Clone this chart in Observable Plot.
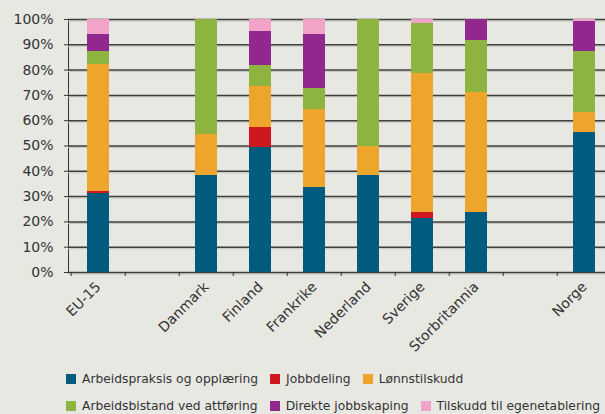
<!DOCTYPE html>
<html>
<head>
<meta charset="utf-8">
<script src="https://cdn.jsdelivr.net/npm/d3@7"></script>
<script src="https://cdn.jsdelivr.net/npm/@observablehq/plot@0.6"></script>
<style>
  html, body { margin: 0; padding: 0; background: #e8e8e3; overflow: hidden; }
  #chart { width: 605px; height: 414px; position: relative; }
  .legend { position: absolute; left: 66px; font-family: "DejaVu Sans", sans-serif; font-size: 12.3px; color: #333; }
  .row { display: flex; align-items: center; height: 16px; white-space: nowrap; }
  .item { display: flex; align-items: center; margin-right: 12px; }
  .sw { width: 10px; height: 10px; margin-right: 6px; flex: none; }
</style>
</head>
<body>
<div id="chart"></div>
<script>
const categories = ["EU-15", "gap1", "Danmark", "Finland", "Frankrike", "Nederland", "Sverige", "Storbritannia", "gap2", "Norge"];
const countries = ["EU-15", "Danmark", "Finland", "Frankrike", "Nederland", "Sverige", "Storbritannia", "Norge"];
const seriesNames = ["Arbeidspraksis og opplæring", "Jobbdeling", "Lønnstilskudd", "Arbeidsbistand ved attføring", "Direkte jobbskaping", "Tilskudd til egenetablering"];
const seriesColors = ["#015b7e", "#cf1720", "#eea52c", "#8cb43e", "#92278d", "#f4a3c8"];
const arbeidspraksis = [31.3, 38.5, 49.5, 33.4, 38.2, 21.2, 23.6, 55.5];
const jobbdeling = [0.7, 0, 8.0, 0, 0, 2.4, 0, 0];
const lonnstilskudd = [50.4, 16.2, 16.2, 31.2, 11.8, 55.2, 47.7, 7.9];
const arbeidsbistand = [5.1, 45.3, 8.3, 8.3, 50.0, 19.7, 20.5, 24.1];
const direkte = [6.4, 0, 13.4, 21.3, 0, 0, 8.2, 11.8];
const egenetablering = [6.1, 0, 4.6, 5.8, 0, 1.5, 0, 0.7];
const yTicks = [0, 10, 20, 30, 40, 50, 60, 70, 80, 90, 100];

const seriesValues = [arbeidspraksis, jobbdeling, lonnstilskudd, arbeidsbistand, direkte, egenetablering];
const data = [];
seriesNames.forEach((s, si) => countries.forEach((c, ci) => data.push({country: c, series: s, value: seriesValues[si][ci]})));

const left = 68, step = 54.5;
const plot = Plot.plot({
  width: 605,
  height: 362,
  marginTop: 19,
  marginBottom: 90,
  marginLeft: left,
  marginRight: 0,
  style: {background: "#e8e8e3", fontFamily: "DejaVu Sans, sans-serif", fontSize: "14px", color: "#333"},
  x: {domain: categories, range: [left, left + step * categories.length], paddingInner: 0.6, paddingOuter: 0.3, align: 0.5,
      tickFormat: d => d.startsWith("gap") ? "" : d, tickRotate: -45, tickSize: 0, tickPadding: 12, label: null},
  y: {domain: [0, 100], ticks: yTicks, tickFormat: d => d + "%", tickSize: 4, tickPadding: 11, line: true, label: null},
  color: {domain: seriesNames, range: seriesColors},
  marks: [
    Plot.ruleY(yTicks, {stroke: "#c4c4bf", strokeWidth: 1, dy: 1.5}),
    Plot.ruleY(yTicks, {stroke: "#3d3d3d", strokeWidth: 1.5}),
    Plot.barY(data, {x: "country", y: "value", fill: "series", z: "series", order: seriesNames, shapeRendering: "crispEdges"}),
    Plot.ruleX(categories, {x: d => d, dx: -step / 2, y1: 0, y2: 0, insetBottom: -4, stroke: "#333", strokeWidth: 1})
  ]
});
document.getElementById("chart").appendChild(plot);

const legend = document.createElement("div");
legend.className = "legend";
legend.style.top = "371px";
const rows = [[0, 1, 2], [3, 4, 5]];
rows.forEach((r, ri) => {
  const row = document.createElement("div");
  row.className = "row";
  if (ri === 1) row.style.marginTop = "11px";
  r.forEach(i => {
    const it = document.createElement("div");
    it.className = "item";
    it.innerHTML = `<span class="sw" style="background:${seriesColors[i]}"></span><span>${seriesNames[i]}</span>`;
    row.appendChild(it);
  });
  legend.appendChild(row);
});
document.getElementById("chart").appendChild(legend);
</script>
</body>
</html>
